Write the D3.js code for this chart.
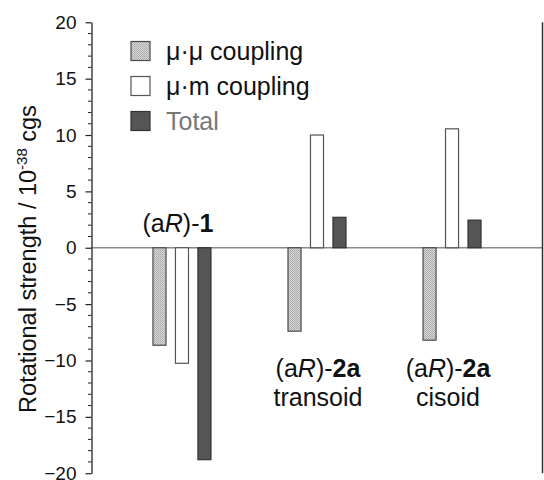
<!DOCTYPE html>
<html><head><meta charset="utf-8">
<script src="https://cdn.jsdelivr.net/npm/d3@7"></script>
<style>
html,body{margin:0;padding:0;background:#fff;}
svg{display:block;font-family:"Liberation Sans",Arial,sans-serif;}
</style></head>
<body>
<svg id="chart" width="544" height="480"></svg>
<script>
const categories = ["(aR)-1", "(aR)-2a transoid", "(aR)-2a cisoid"];
const seriesNames = ["μ·μ coupling", "μ·m coupling", "Total"];
const muMu = [-8.65, -7.4, -8.2];
const muM = [-10.25, 10.0, 10.55];
const total = [-18.8, 2.7, 2.45];
const yTicks = [-20, -15, -10, -5, 0, 5, 10, 15, 20];

const seriesValues = [muMu, muM, total];
const svg = d3.select("#chart");

const defs = svg.append("defs");
const pat = defs.append("pattern").attr("id","dots").attr("patternUnits","userSpaceOnUse")
  .attr("width",2).attr("height",2);
pat.append("rect").attr("width",2).attr("height",2).attr("fill","#d6d6d6");
pat.append("rect").attr("width",1).attr("height",1).attr("fill","#a8a8a8");
pat.append("rect").attr("x",1).attr("y",1).attr("width",1).attr("height",1).attr("fill","#b4b4b4");

const fills = ["url(#dots)", "#ffffff", "#555555"];
const strokes = ["#4a4a4a", "#555555", "#333333"];

const left = 91.5, right = 542.5;
const y = d3.scaleLinear().domain([-20, 20]).range([473.2, 22.3]);
const x = d3.scalePoint().domain(categories).range([left, right]).padding(0.67);
const xs = d3.scaleBand().domain(seriesNames).range([-29, 29]).paddingInner(0.42);

// zero line
svg.append("line").attr("x1", left).attr("x2", right)
  .attr("y1", y(0)).attr("y2", y(0)).attr("stroke", "#8a8a8a").attr("stroke-width", 1.3);

// right border
svg.append("line").attr("x1", right).attr("x2", right)
  .attr("y1", y(20)).attr("y2", y(-20)).attr("stroke", "#333").attr("stroke-width", 1.5);

// bars
seriesNames.forEach((s, si) => {
  svg.append("g").selectAll("rect").data(categories).join("rect")
    .attr("x", (c) => x(c) + xs(s))
    .attr("width", xs.bandwidth())
    .attr("y", (c, i) => y(Math.max(0, seriesValues[si][i])))
    .attr("height", (c, i) => Math.abs(y(seriesValues[si][i]) - y(0)))
    .attr("fill", fills[si])
    .attr("stroke", strokes[si])
    .attr("stroke-width", 1.2);
});

// y axis
const yAxis = d3.axisLeft(y).tickValues(yTicks).tickSize(6).tickPadding(9).tickSizeOuter(0);
const ga = svg.append("g").attr("transform", `translate(${left},0)`).call(yAxis);
ga.select(".domain").attr("stroke", "#222").attr("stroke-width", 1.3);
ga.selectAll(".tick line").attr("stroke", "#222").attr("stroke-width", 1.2);
ga.selectAll(".tick text").attr("font-size", 19).attr("fill", "#111")
  .attr("font-family", '"Liberation Sans",Arial,sans-serif');
// minor ticks
const minor = d3.range(-20, 21, 1).filter(v => v % 5 !== 0);
ga.append("g").selectAll("line").data(minor).join("line")
  .attr("x1", -3.5).attr("x2", 0).attr("y1", d => y(d)).attr("y2", d => y(d))
  .attr("stroke", "#222").attr("stroke-width", 1);

// y label
const yl = svg.append("text").attr("transform", `translate(36,${y(-1)}) rotate(-90)`)
  .attr("text-anchor", "middle").attr("font-size", 23.5).attr("fill", "#111");
yl.append("tspan").text("Rotational strength / 10");
yl.append("tspan").attr("dy", -9).attr("font-size", 15).text("-38");
yl.append("tspan").attr("dy", 9).text(" cgs");

// category labels
const lab1 = svg.append("text").attr("x", x(categories[0]) - 4).attr("y", y(1.42))
  .attr("text-anchor", "middle").attr("font-size", 25).attr("fill", "#111");
lab1.append("tspan").text("(a");
lab1.append("tspan").attr("font-style", "italic").text("R");
lab1.append("tspan").text(")-");
lab1.append("tspan").attr("font-weight", "bold").text("1");

[1, 2].forEach(i => {
  const t = svg.append("text").attr("x", x(categories[i]) + (i === 1 ? 1 : -4)).attr("y", y(-11.5))
    .attr("text-anchor", "middle").attr("font-size", 25).attr("fill", "#111");
  t.append("tspan").text("(a");
  t.append("tspan").attr("font-style", "italic").text("R");
  t.append("tspan").text(")-");
  t.append("tspan").attr("font-weight", "bold").text("2a");
  svg.append("text").attr("x", x(categories[i]) + (i === 1 ? 1 : -4)).attr("y", y(-14.05))
    .attr("text-anchor", "middle").attr("font-size", 25).attr("fill", "#111")
    .text(categories[i].split(" ")[1]);
});

// legend
const lg = svg.append("g");
const legTextColors = ["#111", "#111", "#777"];
seriesNames.forEach((s, i) => {
  lg.append("rect").attr("x", 131).attr("y", 41.5 + i * 35).attr("width", 19).attr("height", 19)
    .attr("fill", fills[i]).attr("stroke", strokes[i]).attr("stroke-width", 1.2);
  lg.append("text").attr("x", 166).attr("y", 60 + i * 35).attr("font-size", 25)
    .attr("fill", legTextColors[i]).text(s);
});
</script>
</body></html>
